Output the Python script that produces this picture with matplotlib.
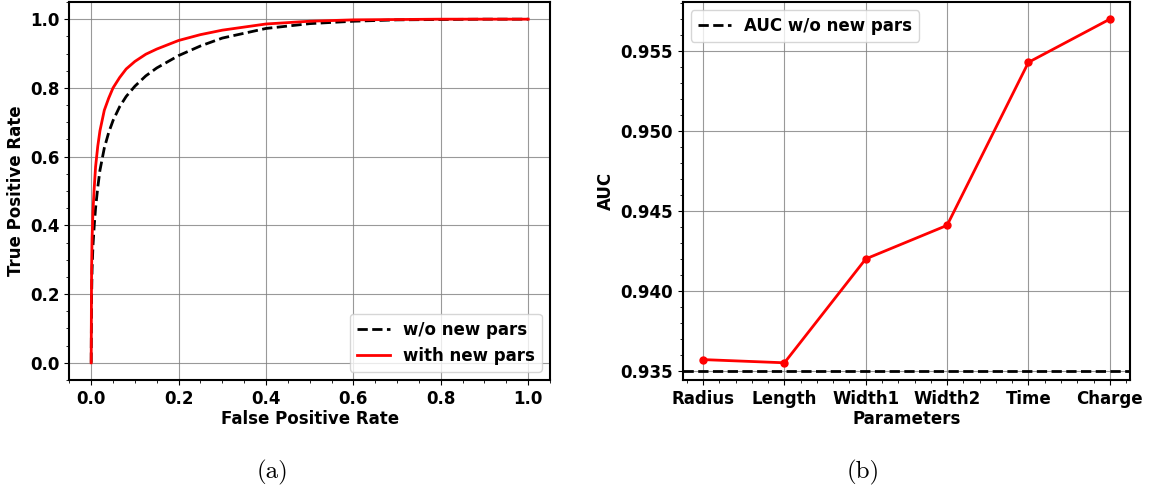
import matplotlib.pyplot as plt
import numpy as np
from matplotlib.ticker import AutoMinorLocator

plt.rcParams['font.weight'] = 'bold'
plt.rcParams['axes.labelweight'] = 'bold'
plt.rcParams['font.size'] = 12

# ROC curves
fpr = [0.0, 0.0005, 0.001, 0.002, 0.004, 0.007, 0.01, 0.015, 0.02, 0.03, 0.04, 0.05,
       0.065, 0.08, 0.1, 0.125, 0.15, 0.2, 0.25, 0.3, 0.4, 0.5, 0.6, 0.7, 0.8, 0.9, 1.0]
tpr_old = [0.0, 0.12, 0.2, 0.27, 0.34, 0.40, 0.45, 0.51, 0.56, 0.625, 0.67, 0.705,
           0.745, 0.775, 0.805, 0.835, 0.858, 0.894, 0.922, 0.945, 0.973, 0.987, 0.994,
           0.998, 0.999, 1.0, 1.0]
tpr_new = [0.0, 0.18, 0.28, 0.36, 0.44, 0.51, 0.57, 0.63, 0.675, 0.735, 0.77, 0.80,
           0.83, 0.855, 0.877, 0.898, 0.913, 0.938, 0.955, 0.968, 0.986, 0.994, 0.998,
           0.999, 1.0, 1.0, 1.0]

# AUC per added parameter
params = ['Radius', 'Length', 'Width1', 'Width2', 'Time', 'Charge']
auc = [0.9357, 0.9355, 0.9420, 0.9441, 0.9543, 0.9570]
auc_base = 0.935

fig = plt.figure(figsize=(11.5, 4.98), dpi=100)
ax1 = fig.add_axes([0.0603, 0.237, 0.418, 0.759])
ax2 = fig.add_axes([0.5937, 0.237, 0.389, 0.759])

ax1.plot(fpr, tpr_old, 'k--', lw=2, label='w/o new pars')
ax1.plot(fpr, tpr_new, color='red', lw=2, label='with new pars')
ax1.set_xlabel('False Positive Rate', labelpad=2)
ax1.set_ylabel('True Positive Rate')
ax1.set_xticks([0, 0.2, 0.4, 0.6, 0.8, 1.0])
ax1.set_yticks([0, 0.2, 0.4, 0.6, 0.8, 1.0])
ax1.xaxis.set_minor_locator(AutoMinorLocator(4))
ax1.yaxis.set_minor_locator(AutoMinorLocator(4))
ax1.grid(True, color='gray', lw=0.8, alpha=0.8)
ax1.legend(loc='lower right')

x = np.arange(len(params))
ax2.plot(x, auc, color='red', lw=2, marker='o', markersize=5)
ax2.axhline(auc_base, color='k', ls='--', lw=2, label='AUC w/o new pars')
ax2.set_xticks(x)
ax2.set_xticklabels(params)
ax2.set_yticks([0.935, 0.940, 0.945, 0.950, 0.955])
ax2.xaxis.set_minor_locator(AutoMinorLocator(5))
ax2.yaxis.set_minor_locator(AutoMinorLocator(5))
ax2.set_xlabel('Parameters', labelpad=2)
ax2.set_ylabel('AUC')
ax2.grid(True, color='gray', lw=0.8, alpha=0.8)
ax2.legend(loc='upper left')

for ax in (ax1, ax2):
    for s in ax.spines.values():
        s.set_linewidth(1.5)

fig.text(0.237, 0.04, '(a)', family='cmr10', fontsize=18, weight='normal', ha='center')
fig.text(0.751, 0.04, '(b)', family='cmr10', fontsize=18, weight='normal', ha='center')

plt.savefig('out.png', dpi=100)
